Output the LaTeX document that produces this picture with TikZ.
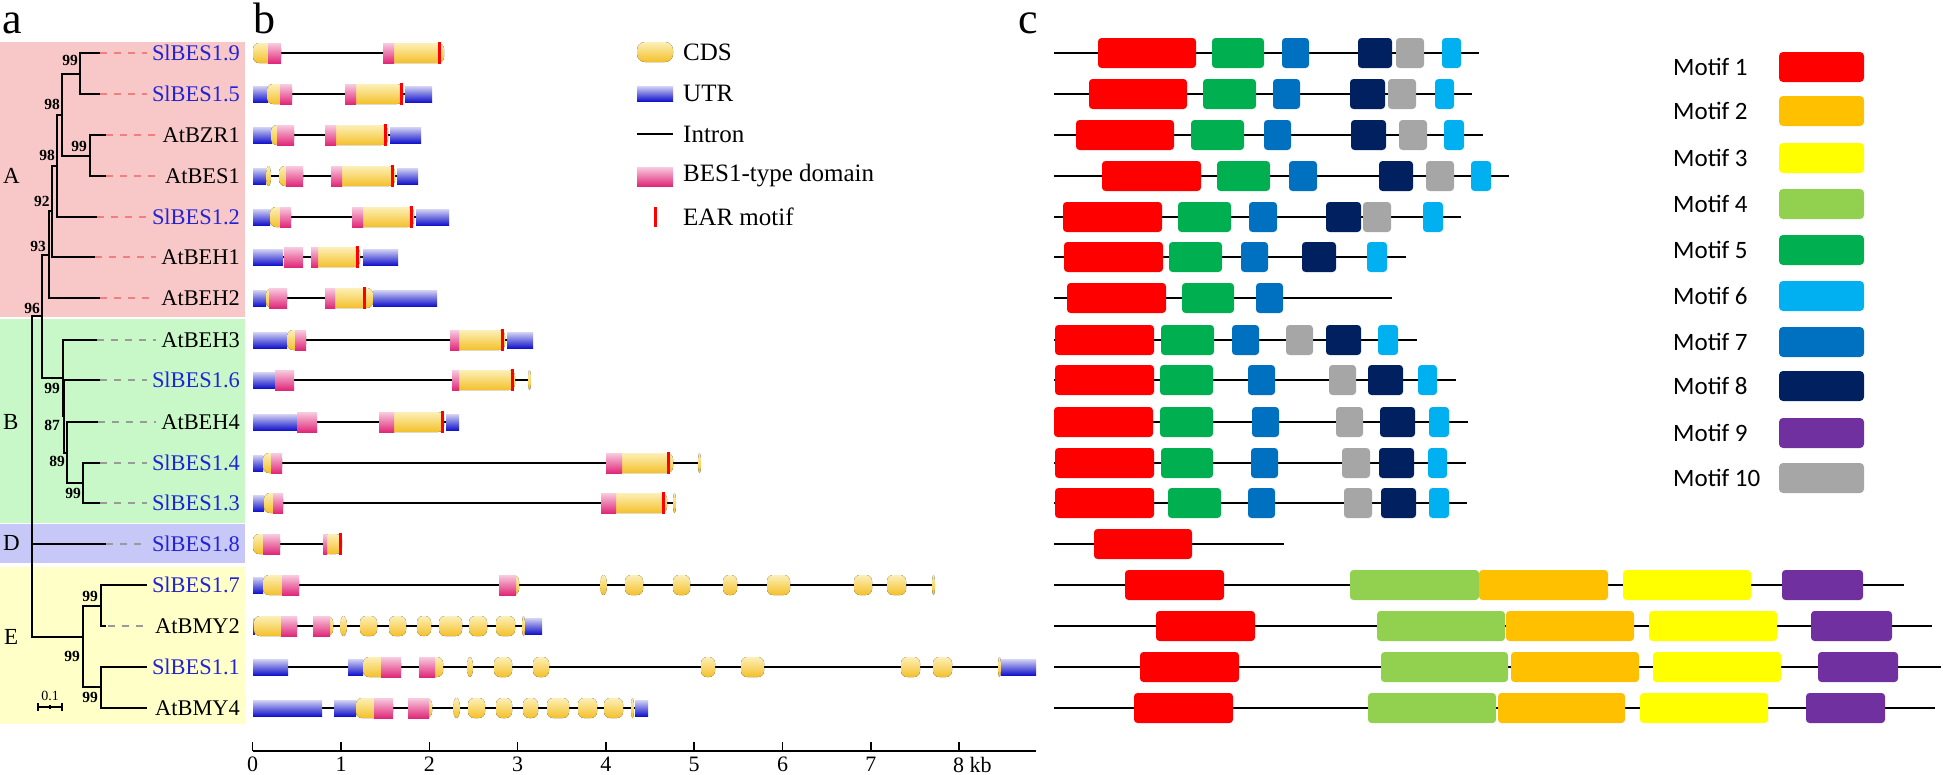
\documentclass[tikz,border=0pt]{standalone}
\usepackage{fontspec}
\setmainfont{Liberation Serif}
\newfontfamily\motiffont{Carlito}
\definecolor{bgA}{HTML}{F8C8C8}
\definecolor{bgB}{HTML}{C8F8C8}
\definecolor{bgD}{HTML}{C8C8F8}
\definecolor{bgE}{HTML}{FFFFC8}
\definecolor{slblue}{HTML}{2323D6}
\definecolor{dashpink}{HTML}{F08080}
\definecolor{dashgrey}{HTML}{9A9A9A}
\definecolor{cdstop}{HTML}{FCF0B8}
\definecolor{cdsbot}{HTML}{F4C02A}
\definecolor{utrtop}{HTML}{D4D4F4}
\definecolor{utrbot}{HTML}{1414CC}
\definecolor{bestop}{HTML}{F8CCE0}
\definecolor{besbot}{HTML}{E02878}
\definecolor{mA}{HTML}{FF0000}
\definecolor{mB}{HTML}{FFC000}
\definecolor{mC}{HTML}{FFFF00}
\definecolor{mD}{HTML}{92D050}
\definecolor{mE}{HTML}{00B050}
\definecolor{mF}{HTML}{00B0F0}
\definecolor{mG}{HTML}{0070C0}
\definecolor{mH}{HTML}{002060}
\definecolor{mI}{HTML}{7030A0}
\definecolor{mJ}{HTML}{A6A6A6}
% gene-structure helpers
\newcommand\UT[3]{\fill[utrsty] (#1,#3-8) rectangle (#2,#3+8);}
\newcommand\CD[3]{\fill[cdssty] (#1,#3-10) rectangle (#2,#3+10);}
\newcommand\OV[3]{\fill[cdssty] ({(#1+#2)/2},#3) ellipse ({(#2-#1)/2} and 10);}
\newcommand\BD[3]{\fill[bessty] (#1,#3-10) rectangle (#2,#3+10);}
\newcommand\EA[2]{\draw[earsty] (#1,#2-11) -- (#1,#2+11);}
\newcommand\IN[3]{\draw[intronsty] (#1,#3) -- (#2,#3);}
\newcommand\MF[4]{\fill[#4, rounded corners=3.5pt] (#1,#3-15) rectangle (#2,#3+15);}
\newcommand\ML[3]{\draw[motifline] (#1,#3) -- (#2,#3);}
\begin{document}
\begin{tikzpicture}[x=1pt,y=-1pt,
  tl/.style={line width=2pt, line cap=rect},
  dpk/.style={line width=1.6pt, draw=dashpink, dash pattern=on 7pt off 7pt},
  dgy/.style={line width=1.6pt, draw=dashgrey, dash pattern=on 7pt off 7pt},
  lab/.style={font=\fontsize{22.4}{24}\selectfont, anchor=east, inner sep=0pt},
  sl/.style={lab, text=slblue},
  bs/.style={font=\bfseries\fontsize{15.5}{17}\selectfont, inner sep=0pt},
  clade/.style={font=\fontsize{23}{25}\selectfont, anchor=west, inner sep=0pt},
  panel/.style={font=\fontsize{44}{46}\selectfont, anchor=base west, inner sep=0pt},
  legtxt/.style={font=\fontsize{25}{27}\selectfont, anchor=west, inner sep=0pt},
  mtxt/.style={font=\motiffont\fontsize{25}{27}\selectfont, anchor=west, inner sep=0pt},
  utrsty/.style={top color=utrtop, bottom color=utrbot},
  cdssty/.style={top color=cdstop, bottom color=cdsbot, rounded corners=6pt},
  bessty/.style={top color=bestop, bottom color=besbot},
  earsty/.style={draw=red, line width=3pt},
  intronsty/.style={draw=black, line width=2pt},
  motifline/.style={draw=black, line width=1.6pt},
  axisnum/.style={font=\fontsize{22}{24}\selectfont, anchor=north, inner sep=0pt}]
\useasboundingbox (0,0) rectangle (1943,774);
\fill[white] (0,0) rectangle (1943,774);
% ---------- panel a backgrounds ----------
\fill[bgA] (0,42) rectangle (245,317);
\fill[bgB] (0,319) rectangle (245,523);
\fill[bgD] (0,524) rectangle (245,563);
\fill[bgE] (0,567) rectangle (245,724);
% panel letters
\node[panel] (pa) at (2,33) {a};
\node[panel] (pb) at (253,33) {b};
\node[panel] (pc) at (1018,33) {c};
% clade letters
\node[clade] (cA) at (3,176) {A};
\node[clade] (cB) at (3,422) {B};
\node[clade] (cD) at (3,543) {D};
\node[clade] (cE) at (4,637) {E};
% ---------- tree ----------
\draw[tl] (100,53) -- (80,53) -- (80,94) -- (100,94);
\draw[tl] (80,73.5) -- (62,73.5);
\draw[tl] (106,135) -- (90,135) -- (90,176) -- (106,176);
\draw[tl] (90,155.5) -- (62,155.5);
\draw[tl] (62,73.5) -- (62,155.5);
\draw[tl] (62,114.5) -- (57,114.5) -- (57,217) -- (97,217);
\draw[tl] (57,165.75) -- (52,165.75) -- (52,257) -- (95,257);
\draw[tl] (52,211) -- (49,211) -- (49,298) -- (100,298);
\draw[tl] (49,254.5) -- (42,254.5) -- (42,378) -- (63,378);
\draw[tl] (42,316) -- (32,316);
\draw[tl] (97,340) -- (63,340) -- (63,416) -- (64,416);
\draw[tl] (100,380) -- (64,380) -- (64,452.5) -- (67,452.5);
\draw[tl] (98,422) -- (67,422) -- (67,483) -- (83,483);
\draw[tl] (100,463) -- (83,463) -- (83,503) -- (100,503);
\draw[tl] (32,316) -- (32,637) -- (83,637);
\draw[tl] (32,544) -- (106,544);
\draw[tl] (101,606) -- (83,606) -- (83,687) -- (101,687);
\draw[tl] (146,585) -- (101,585) -- (101,626) -- (105,626);
\draw[tl] (146,667) -- (101,667) -- (101,708) -- (146,708);
% dashed leaf extensions
\draw[dpk] (100,53) -- (147,53);
\draw[dpk] (100,94) -- (147,94);
\draw[dpk] (106,135) -- (156,135);
\draw[dpk] (106,176) -- (156,176);
\draw[dpk] (97,217) -- (147,217);
\draw[dpk] (95,257) -- (156,257);
\draw[dpk] (100,298) -- (156,298);
\draw[dgy] (97,340) -- (156,340);
\draw[dgy] (100,380) -- (147,380);
\draw[dgy] (98,422) -- (156,422);
\draw[dgy] (100,463) -- (147,463);
\draw[dgy] (100,503) -- (147,503);
\draw[dgy] (106,544) -- (147,544);
\draw[dgy] (108,626) -- (150,626);
% bootstrap values
\node[bs] (b1) at (70,60) {99};
\node[bs] (b2) at (52,104) {98};
\node[bs] (b3) at (79,146) {99};
\node[bs] (b4) at (47,155) {98};
\node[bs] (b5) at (42,201) {92};
\node[bs] (b6) at (38,246) {93};
\node[bs] (b7) at (32,308) {96};
\node[bs] (b8) at (52,388) {99};
\node[bs] (b9) at (52,425) {87};
\node[bs] (b10) at (57,461) {89};
\node[bs] (b11) at (73,493) {99};
\node[bs] (b12) at (90,596) {99};
\node[bs] (b13) at (72,656) {99};
\node[bs] (b14) at (90,697) {99};
% scale bar
\draw[line width=1.2pt] (38,707) -- (62,707);
\draw[line width=1.2pt] (38,703) -- (38,711);
\draw[line width=1.2pt] (50,705) -- (50,709);
\draw[line width=1.2pt] (62,703) -- (62,711);
\node[bs, font=\fontsize{14}{16}\selectfont] (sc) at (50,696) {0.1};
% leaf labels
\node[sl]  (g1)  at (240,53)  {SlBES1.9};
\node[sl]  (g2)  at (240,94)  {SlBES1.5};
\node[lab] (g3)  at (240,135) {AtBZR1};
\node[lab] (g4)  at (240,176) {AtBES1};
\node[sl]  (g5)  at (240,217) {SlBES1.2};
\node[lab] (g6)  at (240,257) {AtBEH1};
\node[lab] (g7)  at (240,298) {AtBEH2};
\node[lab] (g8)  at (240,340) {AtBEH3};
\node[sl]  (g9)  at (240,380) {SlBES1.6};
\node[lab] (g10) at (240,422) {AtBEH4};
\node[sl]  (g11) at (240,463) {SlBES1.4};
\node[sl]  (g12) at (240,503) {SlBES1.3};
\node[sl]  (g13) at (240,544) {SlBES1.8};
\node[sl]  (g14) at (240,585) {SlBES1.7};
\node[lab] (g15) at (240,626) {AtBMY2};
\node[sl]  (g16) at (240,667) {SlBES1.1};
\node[lab] (g17) at (240,708) {AtBMY4};
% ---------- panel b: gene structures ----------
% row 1 SlBES1.9
\IN{268}{394}{53} \CD{253}{281}{53} \BD{268}{281}{53} \CD{383}{444}{53} \BD{383}{394}{53} \EA{439}{53}
% row 2 SlBES1.5
\IN{267}{406}{94} \UT{253}{268}{94} \CD{267}{292}{94} \BD{280}{292}{94} \CD{345}{403}{94} \BD{345}{356}{94} \EA{401}{94} \UT{405}{432}{94}
% row 3 AtBZR1
\IN{271}{421}{135} \UT{253}{272}{135} \CD{271}{294}{135} \BD{277}{294}{135} \CD{325}{388}{135} \BD{325}{336}{135} \EA{385}{135} \UT{390}{421}{135}
% row 4 AtBES1
\IN{266}{418}{176} \UT{253}{266}{176} \OV{266}{271}{176} \CD{279}{303}{176} \BD{286}{303}{176} \CD{331}{395}{176} \BD{331}{342}{176} \EA{392}{176} \UT{397}{418}{176}
% row 5 SlBES1.2
\IN{270}{449}{217} \UT{253}{270}{217} \CD{270}{291}{217} \BD{280}{291}{217} \CD{352}{414}{217} \BD{352}{363}{217} \EA{411}{217} \UT{416}{449}{217}
% row 6 AtBEH1
\IN{283}{398}{257} \UT{253}{283}{257} \BD{284}{303}{257} \CD{311}{360}{257} \BD{311}{318}{257} \EA{357}{257} \UT{363}{398}{257}
% row 7 AtBEH2
\IN{266}{437}{298} \UT{253}{266}{298} \CD{266}{287}{298} \BD{269}{287}{298} \CD{325}{373}{298} \BD{325}{335}{298} \EA{364}{298} \UT{373}{437}{298}
% row 8 AtBEH3
\IN{287}{533}{340} \UT{253}{287}{340} \CD{287}{306}{340} \BD{295}{306}{340} \CD{450}{505}{340} \BD{450}{459}{340} \EA{502}{340} \UT{507}{533}{340}
% row 9 SlBES1.6
\IN{275}{531}{380} \UT{253}{275}{380} \BD{275}{294}{380} \CD{452}{515}{380} \BD{452}{459}{380} \EA{512}{380} \OV{528}{531}{380}
% row 10 AtBEH4
\IN{297}{459}{422} \UT{253}{297}{422} \BD{297}{317}{422} \CD{379}{444}{422} \BD{379}{394}{422} \EA{442}{422} \UT{446}{459}{422}
% row 11 SlBES1.4
\IN{263}{700}{463} \UT{253}{263}{463} \CD{263}{282}{463} \BD{271}{282}{463} \CD{606}{673}{463} \BD{606}{622}{463} \EA{668}{463} \OV{698}{701}{463}
% row 12 SlBES1.3
\IN{264}{675}{503} \UT{253}{264}{503} \CD{264}{283}{503} \BD{273}{283}{503} \CD{601}{667}{503} \BD{601}{616}{503} \EA{663}{503} \OV{673}{676}{503}
% row 13 SlBES1.8
\IN{280}{327}{544} \CD{253}{280}{544} \BD{263}{280}{544} \CD{323}{342}{544} \BD{323}{327}{544} \EA{340}{544}
% row 14 SlBES1.7
\IN{263}{935}{585} \UT{253}{263}{585} \CD{263}{299}{585} \BD{282}{299}{585} \CD{499}{519}{585} \BD{499}{516}{585}
\OV{600}{607}{585} \CD{625}{643}{585} \CD{673}{690}{585} \CD{723}{737}{585} \CD{767}{790}{585} \CD{854}{872}{585} \CD{887}{906}{585} \OV{932}{935}{585}
% row 15 AtBMY2
\IN{254}{525}{626} \UT{253}{255}{626} \CD{254}{297}{626} \BD{281}{297}{626} \CD{313}{333}{626} \BD{313}{330}{626}
\OV{340}{347}{626} \CD{360}{377}{626} \CD{389}{406}{626} \CD{417}{431}{626} \CD{439}{462}{626} \CD{469}{487}{626} \CD{496}{515}{626} \OV{522}{525}{626} \UT{525}{542}{626}
% row 16 SlBES1.1
\IN{288}{1001}{667} \UT{253}{288}{667} \UT{348}{363}{667} \CD{363}{401}{667} \BD{381}{401}{667} \CD{419}{443}{667} \BD{419}{435}{667}
\OV{467}{473}{667} \CD{494}{512}{667} \CD{533}{549}{667} \CD{701}{715}{667} \CD{741}{764}{667} \CD{901}{920}{667} \CD{933}{952}{667} \OV{998}{1001}{667} \UT{1001}{1036}{667}
% row 17 AtBMY4
\IN{322}{635}{708} \UT{253}{322}{708} \UT{334}{356}{708} \CD{356}{393}{708} \BD{374}{393}{708} \CD{408}{432}{708} \BD{408}{429}{708}
\OV{453}{460}{708} \CD{468}{485}{708} \CD{496}{512}{708} \CD{523}{538}{708} \CD{547}{569}{708} \CD{578}{597}{708} \CD{604}{623}{708} \OV{631}{634}{708} \UT{635}{648}{708}
% axis
\draw[line width=2pt] (253,751) -- (1036,751);
\foreach \k in {0,...,8} {
  \draw[line width=1.5pt] ({252.7+88.3*\k},751) -- ({252.7+88.3*\k},742);
}
\foreach \k in {0,...,7} {
  \node[axisnum] (t\k) at ({252.7+88.3*\k},757) {\k};
}
\node[axisnum, anchor=north west] (t8) at (953,757) {8 kb};
% legend b
\fill[cdssty, rounded corners=8pt] (637,42) rectangle (673,62);
\node[legtxt] (lcds) at (683,52) {CDS};
\fill[utrsty] (637,86) rectangle (673,101);
\node[legtxt] (lutr) at (683,93) {UTR};
\draw[intronsty] (637,134) -- (673,134);
\node[legtxt] (lint) at (683,134) {Intron};
\fill[bessty] (637,167) rectangle (673,186);
\node[legtxt] (lbes) at (683,176) {BES1-type domain};
\draw[earsty] (655,207) -- (655,227);
\node[legtxt] (lear) at (683,217) {EAR motif};
% ---------- panel c: motifs ----------
% row 1
\ML{1054}{1479}{53} \MF{1098}{1196}{53}{mA} \MF{1212}{1264}{53}{mE} \MF{1282}{1309}{53}{mG} \MF{1358}{1392}{53}{mH} \MF{1396}{1424}{53}{mJ} \MF{1442}{1461}{53}{mF}
% row 2
\ML{1054}{1472}{94} \MF{1089}{1187}{94}{mA} \MF{1203}{1256}{94}{mE} \MF{1273}{1300}{94}{mG} \MF{1350}{1385}{94}{mH} \MF{1388}{1416}{94}{mJ} \MF{1435}{1454}{94}{mF}
% row 3
\ML{1054}{1483}{135} \MF{1076}{1174}{135}{mA} \MF{1191}{1244}{135}{mE} \MF{1264}{1291}{135}{mG} \MF{1351}{1386}{135}{mH} \MF{1399}{1427}{135}{mJ} \MF{1444}{1464}{135}{mF}
% row 4
\ML{1054}{1509}{176} \MF{1102}{1201}{176}{mA} \MF{1217}{1270}{176}{mE} \MF{1289}{1317}{176}{mG} \MF{1379}{1413}{176}{mH} \MF{1426}{1454}{176}{mJ} \MF{1471}{1491}{176}{mF}
% row 5
\ML{1054}{1461}{217} \MF{1063}{1162}{217}{mA} \MF{1178}{1231}{217}{mE} \MF{1249}{1277}{217}{mG} \MF{1326}{1361}{217}{mH} \MF{1363}{1391}{217}{mJ} \MF{1423}{1443}{217}{mF}
% row 6
\ML{1054}{1406}{257} \MF{1064}{1163}{257}{mA} \MF{1169}{1222}{257}{mE} \MF{1241}{1268}{257}{mG} \MF{1302}{1336}{257}{mH} \MF{1367}{1387}{257}{mF}
% row 7
\ML{1054}{1392}{298} \MF{1067}{1166}{298}{mA} \MF{1182}{1234}{298}{mE} \MF{1256}{1283}{298}{mG}
% row 8
\ML{1054}{1417}{340} \MF{1055}{1154}{340}{mA} \MF{1161}{1214}{340}{mE} \MF{1232}{1259}{340}{mG} \MF{1286}{1313}{340}{mJ} \MF{1326}{1361}{340}{mH} \MF{1378}{1398}{340}{mF}
% row 9
\ML{1054}{1456}{380} \MF{1055}{1154}{380}{mA} \MF{1160}{1213}{380}{mE} \MF{1248}{1275}{380}{mG} \MF{1329}{1356}{380}{mJ} \MF{1368}{1403}{380}{mH} \MF{1418}{1437}{380}{mF}
% row 10
\ML{1054}{1468}{422} \MF{1054}{1153}{422}{mA} \MF{1160}{1213}{422}{mE} \MF{1252}{1279}{422}{mG} \MF{1336}{1363}{422}{mJ} \MF{1380}{1415}{422}{mH} \MF{1429}{1449}{422}{mF}
% row 11
\ML{1054}{1466}{463} \MF{1055}{1154}{463}{mA} \MF{1161}{1213}{463}{mE} \MF{1251}{1278}{463}{mG} \MF{1342}{1370}{463}{mJ} \MF{1379}{1414}{463}{mH} \MF{1428}{1447}{463}{mF}
% row 12
\ML{1054}{1467}{503} \MF{1055}{1154}{503}{mA} \MF{1168}{1221}{503}{mE} \MF{1248}{1275}{503}{mG} \MF{1344}{1372}{503}{mJ} \MF{1381}{1416}{503}{mH} \MF{1429}{1449}{503}{mF}
% row 13
\ML{1054}{1284}{544} \MF{1094}{1192}{544}{mA}
% row 14
\ML{1054}{1904}{585} \MF{1125}{1224}{585}{mA} \MF{1350}{1479}{585}{mD} \MF{1479}{1608}{585}{mB} \MF{1623}{1751}{585}{mC} \MF{1782}{1863}{585}{mI}
% row 15
\ML{1054}{1932}{626} \MF{1156}{1255}{626}{mA} \MF{1377}{1505}{626}{mD} \MF{1506}{1634}{626}{mB} \MF{1649}{1777}{626}{mC} \MF{1811}{1892}{626}{mI}
% row 16
\ML{1054}{1941}{667} \MF{1140}{1239}{667}{mA} \MF{1381}{1508}{667}{mD} \MF{1511}{1639}{667}{mB} \MF{1653}{1781}{667}{mC} \MF{1818}{1898}{667}{mI}
% row 17
\ML{1054}{1935}{708} \MF{1134}{1233}{708}{mA} \MF{1368}{1496}{708}{mD} \MF{1498}{1625}{708}{mB} \MF{1640}{1768}{708}{mC} \MF{1806}{1885}{708}{mI}
% motif legend
\foreach \i/\y/\c in {1/67/mA, 2/111/mB, 3/158/mC, 4/204/mD, 5/250/mE, 6/296/mF, 7/342/mG, 8/386/mH, 9/433/mI, 10/478/mJ} {
  \node[mtxt] (mt\i) at (1673,\y) {Motif \i};
  \fill[\c, rounded corners=4pt] (1779,\y-15) rectangle (1864,\y+15);
}
\end{tikzpicture}
\end{document}
